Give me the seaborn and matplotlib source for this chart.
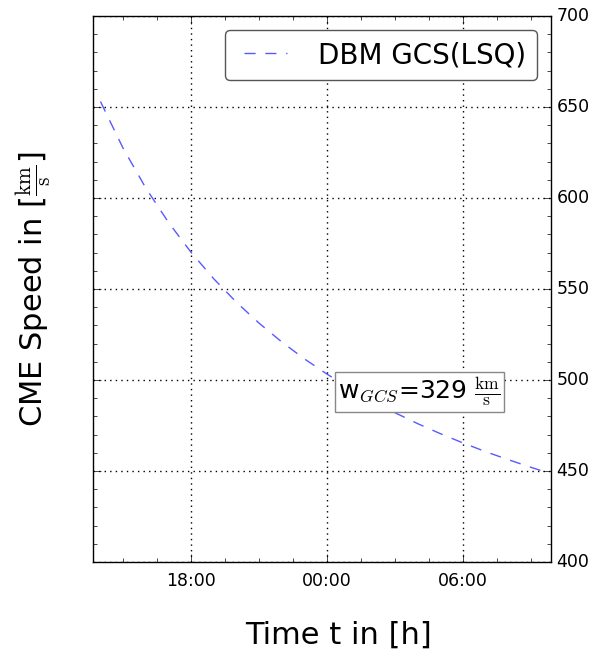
import matplotlib
matplotlib.use("Agg")
import matplotlib.pyplot as plt
from matplotlib.ticker import MultipleLocator, FuncFormatter
import seaborn as sns
import pandas as pd

# Data: time in hours (0 = midnight of first day), speed km/s
hours = [14, 15, 16, 17, 18, 19, 20, 21, 22, 23, 24, 25, 26, 27, 28, 29, 30, 31, 32, 33, 33.6]
speed = [653.0, 627.3, 605.5, 586.6, 570.1, 555.6, 542.7, 531.2, 520.9, 511.6, 503.2,
         495.5, 488.4, 482.0, 476.0, 470.5, 465.4, 460.6, 456.2, 452.0, 449.6]
series_label = "DBM GCS(LSQ)"
w_text = r"w$_{GCS}$=329 $\frac{\mathrm{km}}{\mathrm{s}}$"

df = pd.DataFrame({"time": hours, "speed": speed})

plt.style.use("classic")
fig = plt.figure(figsize=(5.94, 6.6), dpi=100, facecolor="white")
ax = fig.add_axes([93/594, 1-562/660, 458/594, 546/660])

sns.lineplot(data=df, x="time", y="speed", ax=ax, color="b", alpha=0.65,
             linestyle="--", linewidth=1.0, label=series_label)
ax.lines[0].set_dashes([8, 7])

ax.set_xlim(13.67, 33.88)
ax.set_ylim(400, 700)


def hfmt(v, pos):
    h = int(round(v * 60)) // 60
    m = int(round(v * 60)) % 60
    return f"{h % 24:02d}:{m:02d}"


ax.xaxis.set_major_locator(MultipleLocator(6))
ax.xaxis.set_major_formatter(FuncFormatter(hfmt))
ax.xaxis.set_minor_locator(MultipleLocator(1.5))
ax.yaxis.set_major_locator(MultipleLocator(50))
ax.yaxis.set_minor_locator(MultipleLocator(10))
ax.yaxis.set_ticks_position("both")
ax.xaxis.set_ticks_position("both")
ax.tick_params(axis="y", labelleft=False, labelright=True)
ax.tick_params(axis="both", which="major", labelsize=12.5, direction="in", length=6)
ax.tick_params(axis="x", which="major", pad=7)
ax.tick_params(axis="both", which="minor", direction="in", length=3)
ax.grid(True, which="major", color="k", linestyle=":", linewidth=1)

ax.set_xlabel("Time t in [h]", fontsize=22)
ax.xaxis.set_label_coords(0.535, -0.108)
ax.set_ylabel(r"CME Speed in [$\frac{\mathrm{km}}{\mathrm{s}}$]", fontsize=22, labelpad=24)

leg = ax.legend(loc="upper right", fontsize=20, fancybox=True, handlelength=2.15,
                handletextpad=0.8, borderaxespad=0.5)
leg.get_frame().set_edgecolor("#555555")
for h in leg.get_lines():
    h.set_dashes([8, 7])

ax.text(0.536, 0.311, w_text, transform=ax.transAxes, fontsize=18, va="center", ha="left",
        bbox=dict(boxstyle="square,pad=0.15", facecolor="white", edgecolor="#888888"))

fig.savefig("out.png", dpi=100, facecolor="white")
